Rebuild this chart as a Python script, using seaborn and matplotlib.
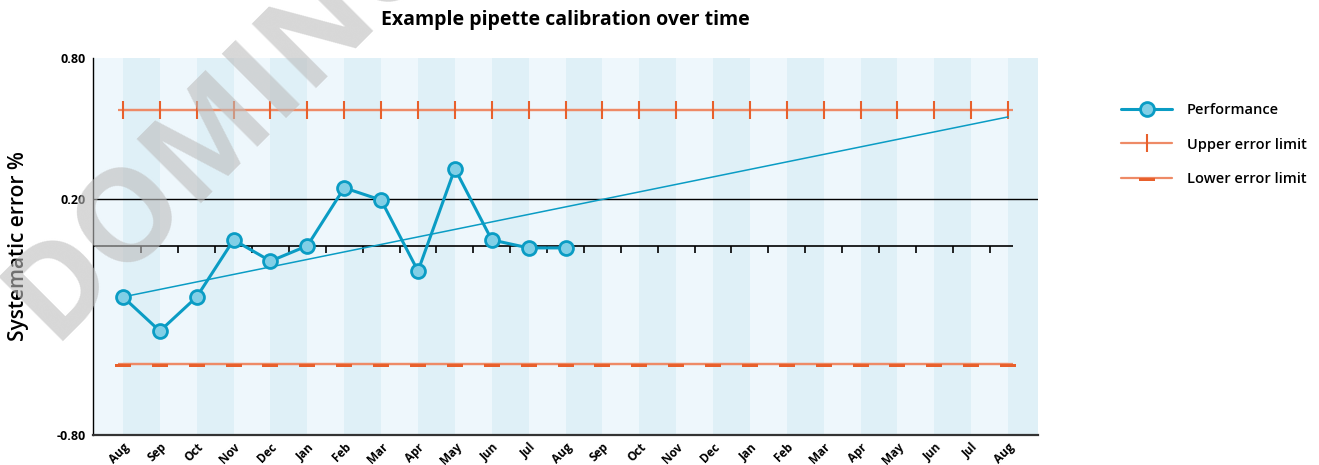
import numpy as np
import pandas as pd
import matplotlib
matplotlib.use("Agg")
import matplotlib.pyplot as plt
import matplotlib.transforms as mtransforms
import seaborn as sns

# 数据
months = ["Aug", "Sep", "Oct", "Nov", "Dec", "Jan", "Feb", "Mar", "Apr", "May", "Jun", "Jul",
          "Aug", "Sep", "Oct", "Nov", "Dec", "Jan", "Feb", "Mar", "Apr", "May", "Jun", "Jul", "Aug"]
performance = [-0.214, -0.359, -0.214, 0.028, -0.062, 0.003, 0.249, 0.197, -0.104, 0.330,
               0.028, -0.006, -0.006]
upper_limit = 0.579
lower_limit = -0.499
trend_start_end = [-0.214, 0.550]

sns.set_theme(style="white")
plt.rcParams['font.family'] = ['Open Sans', 'DejaVu Sans']
plt.rcParams['text.color'] = 'black'
plt.rcParams['axes.labelcolor'] = 'black'
plt.rcParams['xtick.color'] = 'black'
plt.rcParams['ytick.color'] = 'black'

blue = "#0a9cc4"
orange_line = "#ee8a66"
orange_mark = "#e8602c"

n = len(months)
pos = np.arange(n)

fig = plt.figure(figsize=(13.19, 4.65), dpi=100)
ax = fig.add_axes([93 / 1319, 1 - 435 / 465, (1038 - 93) / 1319, (435 - 58) / 465])

x_left = -30 / 36.9
x_right = n - 1 + 30 / 36.9
ax.set_xlim(x_left, x_right)
ax.set_ylim(-0.8, 0.8)

# 背景条纹
ax.axvspan(x_left, 0, color="#eef7fc", lw=0, zorder=0)
for i in range(n):
    c = "#dff0f7" if i % 2 == 0 else "#eef7fc"
    ax.axvspan(i, min(i + 1, x_right), color=c, lw=0, zorder=0)

# 参考线
ax.axhline(0.2, color="black", lw=1, zorder=1)
ax.hlines(0, x_left, n - 1 + 0.14, color="black", lw=1.2, zorder=1)
ax.vlines(pos[:-1] + 0.5, -0.026, 0, color="black", lw=1.2, zorder=1)

df_perf = pd.DataFrame({"x": pos[:len(performance)], "y": performance})
df_up = pd.DataFrame({"x": pos, "y": [upper_limit] * n})
df_low = pd.DataFrame({"x": pos, "y": [lower_limit] * n})
df_trend = pd.DataFrame({"x": [0, n - 1], "y": trend_start_end})

# 上下限的延长线
ax.hlines([upper_limit, lower_limit], -0.14, n - 1 + 0.14, color=orange_line, lw=1.6, zorder=2)

low_marker = [(-1, 0), (1, 0), (1, -0.45), (-1, -0.45), (-1, 0)]

sns.lineplot(data=df_up, x="x", y="y", ax=ax, color=orange_line, lw=1.6,
             marker="|", markersize=13, markeredgewidth=1.5, markeredgecolor=orange_mark,
             zorder=3, label="Upper error limit")
sns.lineplot(data=df_low, x="x", y="y", ax=ax, color=orange_line, lw=1.6,
             marker=low_marker, markersize=11, markeredgewidth=0, markerfacecolor=orange_mark,
             zorder=3, label="Lower error limit")
sns.lineplot(data=df_trend, x="x", y="y", ax=ax, color=blue, lw=1.1, zorder=3, legend=False)
sns.lineplot(data=df_perf, x="x", y="y", ax=ax, color=blue, lw=2.2,
             marker="o", markersize=10, markerfacecolor="#82cfe6", markeredgecolor=blue,
             markeredgewidth=2, zorder=4, label="Performance")

# 坐标轴
ax.set_xticks(pos)
ax.set_xticklabels(months, rotation=45, ha="right", rotation_mode="anchor",
                   fontsize=8.5, fontweight="bold")
shift = mtransforms.ScaledTranslation(-5 / 100, 0, fig.dpi_scale_trans)
for lab in ax.get_xticklabels():
    lab.set_transform(lab.get_transform() + shift)
ax.set_yticks([-0.8, 0.2, 0.8])
ax.set_yticklabels(["-0.80", "0.20", "0.80"], fontsize=9, fontweight="bold")
ax.tick_params(axis="y", length=0, pad=5)
ax.tick_params(axis="x", length=0, pad=4)
ax.set_xlabel("")
ax.set_ylabel("Systematic error %", fontsize=15, fontweight="semibold", labelpad=20)
for s in ["top", "right"]:
    ax.spines[s].set_visible(False)
ax.spines["left"].set_color("black")
ax.spines["left"].set_linewidth(1)
ax.spines["bottom"].set_color("#333333")
ax.spines["bottom"].set_linewidth(1.6)

handles, labels = ax.get_legend_handles_labels()
order = [labels.index(l) for l in ["Performance", "Upper error limit", "Lower error limit"]]
fig.legend([handles[i] for i in order], [labels[i] for i in order],
           loc="upper left", bbox_to_anchor=(1108 / 1319, 1 - 90 / 465), frameon=False,
           prop={"size": 10.5, "weight": "semibold"}, handlelength=3.5, handletextpad=1.0,
           labelspacing=1.4)
ax.get_legend().remove()

fig.text(565 / 1319, 1 - 20 / 465, "Example pipette calibration over time",
         ha="center", va="center", fontsize=14, fontweight="bold")

# 水印
fig.text(228 / 1319, 1 - 118 / 465, "DOMINO", rotation=45, ha="center", va="center",
         rotation_mode="anchor", fontsize=92, fontweight="bold", color="#bdbdbd", alpha=0.6,
         zorder=10)

fig.savefig("out.png", dpi=100)
